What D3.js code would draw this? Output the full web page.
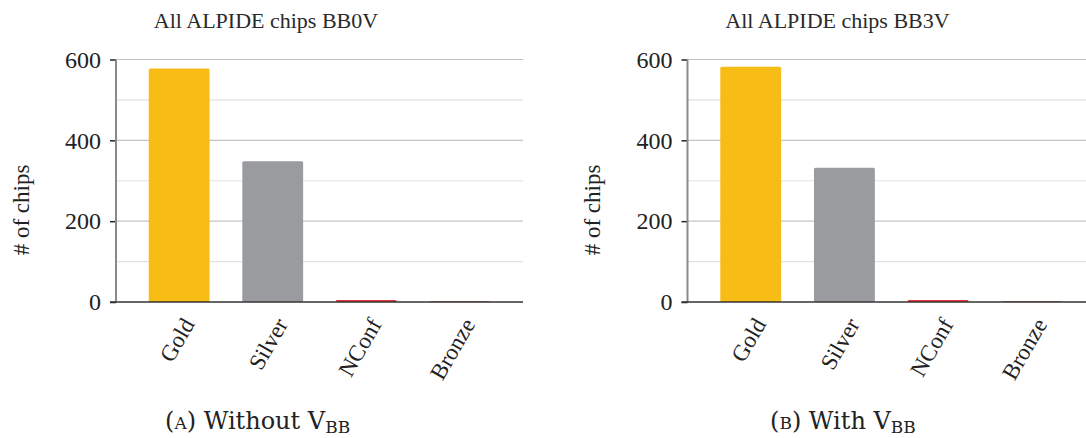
<!DOCTYPE html>
<html><head><meta charset="utf-8">
<script src="https://cdn.jsdelivr.net/npm/d3@7"></script>
<style>
html,body{margin:0;padding:0;background:#fff;}
svg{display:block;}
</style></head>
<body>
<svg id="c" width="1086" height="438"></svg>
<script>
const categories = ["Gold", "Silver", "NConf", "Bronze"];
const valuesBB0V = [578, 348, 5, 2];
const valuesBB3V = [582, 332, 5, 2];
const barColors = ["#F8BC16", "#9A9B9F", "#E8343A", "#C8553F"];
const yTicks = [0, 200, 400, 600];
const gridValues = [100, 200, 300, 400, 500, 600];
const panelTitles = ["All ALPIDE chips BB0V", "All ALPIDE chips BB3V"];
const captionLetters = ["a", "b"];
const captionWords = ["Without V", "With V"];
const captionSub = "BB";
const yLabel = "# of chips";

const SERIF = "'Liberation Serif', 'Times New Roman', Times, serif";
const CAPF = "'DejaVu Serif', serif";

const svg = d3.select("#c");
const panels = [
  {x0: 116, x1: 523, values: valuesBB0V, title: panelTitles[0], letter: captionLetters[0], word: captionWords[0], capX: 165, ylabX: 21},
  {x0: 687.5, x1: 1095, values: valuesBB3V, title: panelTitles[1], letter: captionLetters[1], word: captionWords[1], capX: 770, ylabX: 592}
];
const yTop = 59.5, yBot = 302;

panels.forEach(p => {
  const x = d3.scaleBand().domain(categories).range([p.x0, p.x1]).paddingInner(0.35).paddingOuter(0.35);
  const y = d3.scaleLinear().domain([0, 600]).range([yBot, yTop]);
  const g = svg.append("g");

  g.selectAll("line.grid").data(gridValues).enter().append("line")
    .attr("x1", p.x0).attr("x2", p.x1)
    .attr("y1", d => y(d)).attr("y2", d => y(d))
    .attr("stroke", d => d % 200 === 0 ? "#c4c4c4" : "#e2e2e2")
    .attr("stroke-width", 1.2);

  g.selectAll("rect.bar").data(categories).enter().append("rect")
    .attr("x", d => x(d)).attr("width", x.bandwidth())
    .attr("y", (d, i) => y(p.values[i]))
    .attr("height", (d, i) => yBot - y(p.values[i]))
    .attr("rx", 1.5)
    .attr("fill", (d, i) => barColors[i]);

  const yAxis = d3.axisLeft(y).tickValues(yTicks).tickSize(6).tickPadding(9).tickFormat(d3.format("d"));
  const ya = g.append("g").attr("transform", `translate(${p.x0},0)`).call(yAxis);
  ya.attr("font-family", null).attr("font-size", null);
  ya.select(".domain").remove();
  ya.selectAll(".tick line").attr("stroke", "#222").attr("stroke-width", 1.5);
  ya.selectAll(".tick text").style("font-family", SERIF).style("font-size", "24px").attr("fill", "#222");
  g.append("line").attr("x1", p.x0).attr("x2", p.x0).attr("y1", yTop).attr("y2", yBot)
    .attr("stroke", "#8a8a8a").attr("stroke-width", 2);

  g.append("line").attr("x1", p.x0 - 6).attr("x2", p.x1).attr("y1", yBot).attr("y2", yBot)
    .attr("stroke", "#333").attr("stroke-width", 1.5);

  const xAxis = d3.axisBottom(x).tickSize(0).tickPadding(0);
  const xa = g.append("g").attr("transform", `translate(0,${yBot})`).call(xAxis);
  xa.attr("font-family", null).attr("font-size", null);
  xa.select(".domain").remove();
  xa.selectAll(".tick text")
    .style("font-family", SERIF).style("font-size", "23px").attr("fill", "#222")
    .attr("text-anchor", "end")
    .attr("dy", "0.35em").attr("y", 0)
    .attr("transform", "translate(9,18) rotate(-60)");

  g.append("text").attr("x", p.x0 + 150).attr("y", 28).attr("text-anchor", "middle")
    .style("font-family", SERIF).style("font-size", "22px").attr("fill", "#2a2a2a").text(p.title);

  g.append("text").attr("transform", `translate(${p.ylabX},210) rotate(-90)`)
    .attr("text-anchor", "middle").style("font-family", SERIF).style("font-size", "23px").attr("fill", "#222")
    .attr("dy", "0.35em").text(yLabel);

  const cap = g.append("text").attr("x", p.capX).attr("y", 429)
    .style("font-family", CAPF).style("font-size", "24px").attr("fill", "#222");
  cap.append("tspan").text("(");
  cap.append("tspan").style("font-variant", "small-caps").text(p.letter);
  cap.append("tspan").text(") " + p.word);
  cap.append("tspan").style("font-size", "17px").attr("dy", 4).text(captionSub);
});
</script>
</body></html>
